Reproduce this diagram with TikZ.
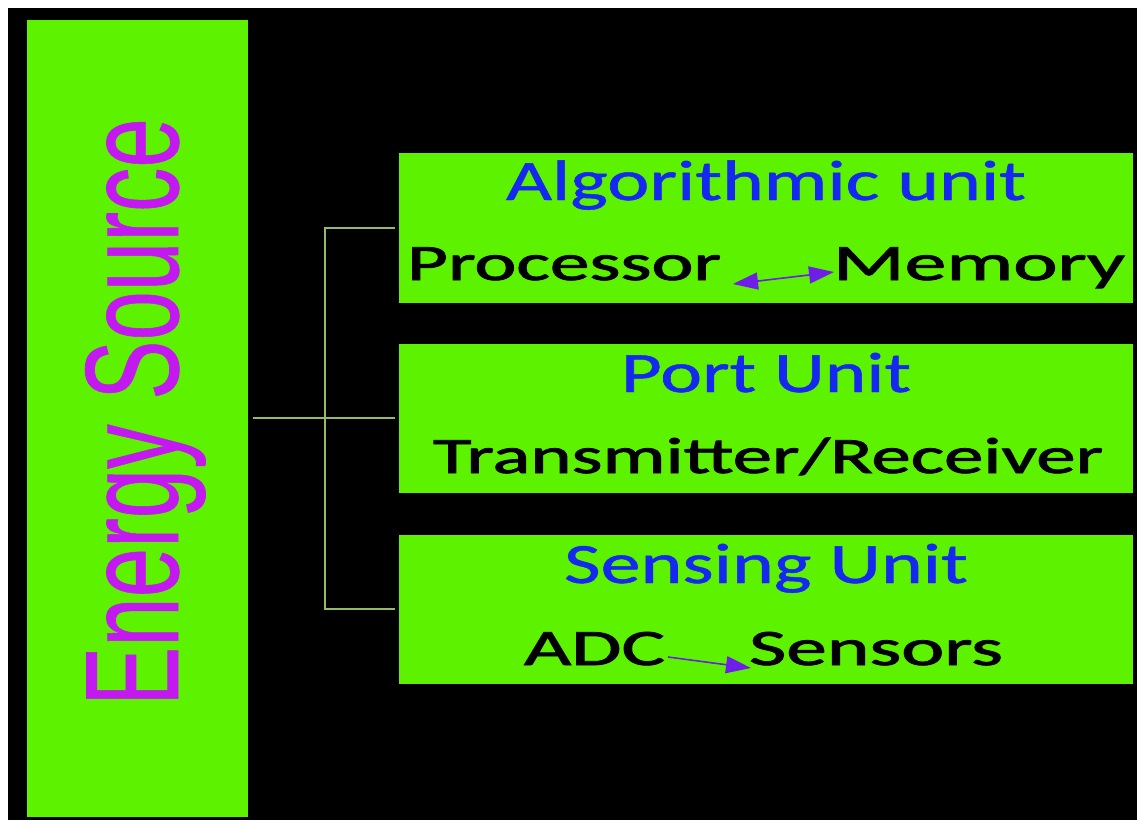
\documentclass[tikz,border=0pt]{standalone}
\usepackage{fontspec}
\setmainfont{Carlito}
\newfontfamily\arialfont[FakeBold=0.6]{Liberation Sans}
\newfontfamily\itemfont[FakeBold=1.5]{Carlito}
\newfontfamily\titlefont[FakeBold=0.8]{Carlito}
\definecolor{boxgreen}{RGB}{92,242,0}
\definecolor{esmag}{RGB}{195,25,240}
\definecolor{titleblue}{RGB}{20,40,240}
\definecolor{busline}{RGB}{150,185,100}
\definecolor{arrowpurple}{RGB}{110,30,230}
\usetikzlibrary{arrows.meta}
\tikzset{
  panel/.style={fill=boxgreen, draw=none},
  title/.style={inner sep=0pt, outer sep=0pt, text=titleblue, anchor=base},
  item/.style={inner sep=0pt, outer sep=0pt, text=black},
  bus/.style={draw=busline, line width=2pt},
  tip/.tip={Triangle[length=25pt,width=17pt]},
  flow/.style={draw=arrowpurple, line width=1.6pt, -tip},
}
\begin{document}
\begin{tikzpicture}[x=1pt,y=-1pt]
\useasboundingbox (0,0) rectangle (1137,820);
\fill[white] (0,0) rectangle (1137,820);
\fill[black] (8,8) rectangle (1137,820);
% energy source
\node[panel, minimum width=221pt, minimum height=797pt, inner sep=0pt, anchor=north west] (energy) at (27,20) {};
\node[inner sep=0pt, outer sep=0pt, rotate=90, anchor=base west, text=esmag] (estext) at (178,706)
  {\resizebox{588pt}{\height}{\fontsize{133}{140}\selectfont\arialfont Energy Source}};
% unit boxes
\node[panel, minimum width=734pt, minimum height=150pt, inner sep=0pt, anchor=north west] (algo) at (399,153) {};
\node[panel, minimum width=734pt, minimum height=149pt, inner sep=0pt, anchor=north west] (port) at (399,344) {};
\node[panel, minimum width=734pt, minimum height=149pt, inner sep=0pt, anchor=north west] (sense) at (399,535) {};
% titles
\node[title] (algot) at (766,200) {\resizebox{520pt}{\height}{\fontsize{57}{60}\selectfont\titlefont Algorithmic unit}};
\node[title] (portt) at (766,392) {\resizebox{290pt}{\height}{\fontsize{57}{60}\selectfont\titlefont Port Unit}};
\node[title] (senset) at (766,583) {\resizebox{404pt}{\height}{\fontsize{57}{60}\selectfont\titlefont Sensing Unit}};
% items
\node[item, anchor=base west] (proc) at (407,280) {\resizebox{314pt}{\height}{\fontsize{51}{55}\selectfont\itemfont Processor}};
\node[item, anchor=base east] (mem) at (1125,280) {\resizebox{292pt}{\height}{\fontsize{51}{55}\selectfont\itemfont Memory}};
\node[item, anchor=base] (trx) at (768,473) {\resizebox{670pt}{\height}{\fontsize{51}{55}\selectfont\itemfont Transmitter/Receiver}};
\node[item, anchor=base west] (adc) at (524,665) {\resizebox{141pt}{\height}{\fontsize{51}{55}\selectfont\itemfont ADC}};
\node[item, anchor=base west] (sens) at (749,665) {\resizebox{254pt}{\height}{\fontsize{51}{55}\selectfont\itemfont Sensors}};
% arrows
\coordinate (pa) at (733,284);
\coordinate (pb) at (834,272);
\draw[flow, tip-tip] (pa) -- (pb);
\coordinate (aa) at (668,657);
\coordinate (ab) at (751,668);
\draw[flow] (aa) -- (ab);
% bus
\coordinate (busL) at (253,418);
\coordinate (busM) at (325,418);
\coordinate (busT) at (325,228);
\coordinate (busB) at (325,609);
\coordinate (endT) at (395,228);
\coordinate (endM) at (395,418);
\coordinate (endB) at (395,609);
\draw[bus] (busL) -- (endM);
\draw[bus] (endT) -- (busT) -- (busB) -- (endB);
\end{tikzpicture}
\end{document}
